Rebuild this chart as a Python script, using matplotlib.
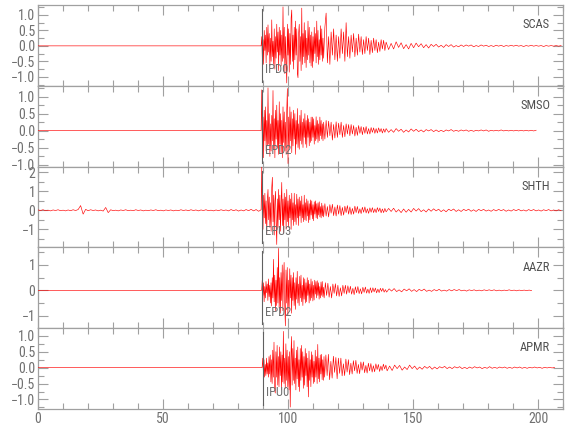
import numpy as np
import matplotlib
matplotlib.use("Agg")
import matplotlib.pyplot as plt
from matplotlib.ticker import MultipleLocator, FuncFormatter

plt.rcParams['font.family'] = ['Liberation Sans Narrow', 'Roboto Condensed',
                               'DejaVu Sans Condensed', 'Liberation Sans']

stations = ["SCAS", "SMSO", "SHTH", "AAZR", "APMR"]
picks = ["IPD0", "EPD2", "EPU3", "EPD2", "IPU0"]
onsets = [89.5, 89.5, 89.5, 89.7, 89.9]
ylims = [(-1.29, 1.32), (-1.06, 1.32), (-1.95, 2.3), (-1.49, 1.69), (-1.30, 1.24)]

STRONG_DT = 0.25  # s, first 25 s after the onset
MID_DT = 0.5      # s, next 25 s
TAIL_DT = 1.0     # s, late coda

# pre-event noise (spread evenly from t=0 to just before the onset)
pre_scas = [0.0, 0.0]
pre_smso = [0.0, 0.0]
pre_shth = [0.02, -0.01, 0.03, -0.02, 0.01, -0.03, 0.02, -0.01, 0.03, -0.02,
            0.01, -0.03, 0.02, -0.02, 0.03, -0.01, 0.04, 0.25, -0.2, 0.05,
            -0.02, 0.03, -0.01, 0.02, -0.03, 0.01, -0.04, 0.15, -0.12, 0.03,
            -0.02, 0.01, -0.03, 0.02, -0.01, 0.03, -0.02, 0.01, -0.02, 0.03,
            -0.01, 0.02, -0.03, 0.01, -0.02, 0.02, -0.01, 0.03, -0.02, 0.01,
            -0.03, 0.02, -0.01, 0.02, -0.03, 0.01, -0.02, 0.03, -0.01, 0.02,
            -0.02, 0.03, -0.01, 0.02, -0.03, 0.02, -0.01, 0.03, -0.02, 0.01,
            -0.03, 0.02, -0.02, 0.03, -0.01, 0.02, -0.03, 0.04, -0.02, 0.03,
            -0.04, 0.02, -0.03, 0.04, -0.02, 0.05, -0.03, 0.04, -0.05, 0.03]
pre_aazr = [0.0, 0.0]
pre_apmr = [0.0, 0.0]

# strong part, every STRONG_DT from the onset
strong_scas = [0.3, -0.45, 0.2, -0.6, 0.5, -0.15, 0.35, -0.55, 0.6, -0.3,
               0.68, -0.2, 0.4, -0.65, 0.25, -0.5, 0.84, -0.35, 0.15, -0.6,
               0.55, -0.75, 0.3, -0.4, 0.7, -0.2, 0.45, -0.8, 0.6, -0.3,
               0.5, -0.65, 0.35, -0.5, 1.26, -0.4, 0.6, -0.9, 0.3, -0.55,
               -1.2, 0.7, -0.3, 0.55, -0.85, 0.4, -0.6, 0.9, 1.16, -0.5,
               0.35, -0.75, 0.6, -0.45, 0.8, -0.3, 0.55, -0.9, -1.03, 0.4,
               0.7, -0.5, 0.3, -0.8, 1.22, -0.6, 0.4, -0.35, 0.75, -0.55,
               0.5, -0.7, 0.25, -0.45, 0.8, -0.3, 0.6, -0.55, 0.35, -0.65,
               0.45, -0.7, 0.3, -0.5, 0.6, -0.25, 0.4, -0.55, 0.8, -0.35,
               0.5, -0.6, 0.2, -0.45, 0.65, -0.3, 0.55, -0.5, 0.25, -0.4]
strong_smso = [1.2, -0.5, 0.4, -0.8, 0.6, -0.3, 0.7, -0.6, 0.3, -0.45,
               1.26, -0.4, 0.5, -0.76, 0.2, -0.6, 0.45, -0.3, 1.18, -0.55,
               0.35, -0.8, 0.6, -0.25, 0.75, -0.5, 0.3, -0.7, 0.85, -0.4,
               0.5, -0.65, 0.3, -0.8, 0.7, -0.35, 0.55, -0.6, 0.25, -0.7,
               0.6, 1.24, -0.97, 0.4, -0.5, 0.7, -0.3, 0.55, -0.65, 0.35,
               -0.45, 0.6, -0.25, 0.5, -0.7, 0.3, -0.4, 0.65, -0.5, 0.2,
               -0.55, 0.45, -0.3, 0.6, -0.4, 0.25, -0.5, 0.35, -0.2, 0.5,
               -0.4, 0.3, -0.5, 0.45, -0.2, 0.35, -0.45, 0.25, -0.35, 0.4,
               -0.3, 0.4, -0.2, 0.35, -0.4, 0.15, -0.3, 0.41, -0.25, 0.3,
               -0.35, 0.2, -0.3, 0.4, -0.15, 0.3, -0.25, 0.2, -0.3, 0.25]
strong_shth = [2.3, -0.6, -1.0, 0.8, -0.4, 0.9, -0.7, 0.5, -1.26, 0.6,
               1.1, -0.5, 0.7, -0.9, 0.4, -1.1, 1.2, 1.74, -0.6, 0.8,
               -1.3, 0.5, 1.0, -0.7, -1.8, 0.6, -0.9, 1.1, -0.5, 0.8,
               -1.1, 0.4, 1.47, -0.8, 0.6, -1.2, 0.9, -0.5, 0.7, -1.0,
               1.1, -0.6, 0.5, -0.9, 0.8, -0.4, 0.6, -1.0, 0.9, -0.5,
               0.4, -0.8, 0.9, -0.6, 0.3, -0.75, 0.85, -0.4, 0.6, -0.8,
               0.7, -0.3, 0.5, -0.65, 0.75, -0.4, 0.3, -0.6, 0.8, -0.5,
               0.4, -0.55, 0.6, -0.3, 0.5, -0.65, 0.35, -0.5, 0.55, -0.25,
               0.5, -0.45, 0.3, -0.55, 0.45, -0.2, 0.5, -0.4, 0.35, -0.45,
               0.4, -0.25, 0.45, -0.35, 0.2, -0.4, 0.38, -0.3, 0.25, -0.35]
strong_aazr = [0.4, -0.2, 0.3, -0.45, 0.15, -0.3, 0.35, -0.1, 0.25, -0.4,
               0.45, -0.25, 0.2, -0.5, 0.3, -0.62, 0.5, -0.3, 1.22, -0.45,
               0.6, -0.8, 0.4, -0.6, 0.9, -0.5, 1.65, -0.7, 0.5, -0.9,
               0.7, -0.4, 1.0, -0.8, 0.5, 1.1, -0.6, -1.4, 0.8, -0.5,
               0.9, -1.0, 0.4, -0.7, 0.85, -0.3, 0.6, -0.9, 0.5, -0.4,
               0.7, -0.6, 0.3, -0.75, 0.5, -0.35, 0.75, -0.5, 0.25, -0.6,
               0.55, -0.3, 0.6, -0.45, 0.2, -0.6, 0.5, -0.35, 0.45, -0.5,
               0.3, -0.45, 0.5, -0.2, 0.4, -0.5, 0.25, -0.4, 0.45, -0.3,
               0.35, -0.42, 0.2, -0.38, 0.4, -0.15, 0.35, -0.3, 0.38, -0.2,
               0.3, -0.35, 0.15, -0.3, 0.33, -0.2, 0.35, -0.25, 0.12, -0.3]
strong_apmr = [0.3, -0.15, 0.25, -0.3, 0.1, -0.25, 0.3, -0.2, 0.15, -0.3,
               0.35, -0.2, 0.4, -0.45, 0.25, -0.5, 0.55, -0.3, 0.8, -0.6,
               -0.8, 0.5, -0.3, 0.7, -0.55, 0.35, -0.6, 0.65, -0.25, 0.5,
               -0.7, 0.4, -0.45, 1.14, -0.5, 0.3, -0.65, 0.75, -0.4, 0.55,
               -0.6, 0.35, -0.7, 0.5, -1.24, 0.3, 0.98, -0.55, 0.6, -0.4,
               0.85, -0.5, 0.3, -0.7, 0.55, -0.35, 0.65, -0.6, 0.25, -0.75,
               0.6, -0.4, 0.7, -0.3, 0.5, -0.65, 0.35, -0.55, 0.6, -0.25,
               0.45, -0.6, 0.3, -0.92, 0.52, -0.4, 0.25, -0.6, 0.5, -0.3,
               0.4, -0.5, 0.2, -0.45, 0.55, -0.3, 0.35, -0.5, 0.73, -0.35,
               0.3, -0.45, 0.4, -0.2, 0.42, -0.38, 0.25, -0.4, 0.35, -0.3]

# decaying coda, every MID_DT
mid_scas = [0.6, 1.06, -0.55, 0.3, -0.6, 0.45, -0.3, 0.55, -0.45, 0.35,
            -0.5, 0.3, -0.4, 0.55, -0.25, 0.45, -0.5, 0.75, -0.35, 0.3,
            -0.4, 0.35, -0.2, 0.4, -0.35, 0.25, -0.3, 0.38, -0.2, 0.3,
            -0.28, 0.2, -0.25, 0.3, -0.15, 0.25, -0.28, 0.18, -0.22, 0.25,
            -0.15, 0.2, -0.22, 0.12, -0.18, 0.2, -0.1, 0.18, -0.15, 0.12]
mid_smso = [-0.25, 0.3, -0.2, 0.28, -0.15, 0.25, -0.28, 0.18, -0.22, 0.26,
            -0.2, 0.22, -0.12, 0.25, -0.2, 0.15, -0.18, 0.2, -0.1, 0.18,
            -0.15, 0.18, -0.1, 0.15, -0.16, 0.1, -0.14, 0.15, -0.08, 0.12,
            -0.12, 0.1, -0.08, 0.12, -0.1, 0.06, -0.1, 0.09, -0.05, 0.08,
            -0.08, 0.06, -0.07, 0.08, -0.04, 0.06, -0.07, 0.05, -0.05, 0.06]
mid_shth = [0.35, -0.3, 0.2, -0.35, 0.3, -0.15, 0.32, -0.28, 0.18, -0.3,
            0.28, -0.2, 0.25, -0.28, 0.15, -0.25, 0.22, -0.12, 0.25, -0.2,
            0.18, -0.22, 0.1, -0.2, 0.22, -0.12, 0.2, -0.16, 0.08, -0.17,
            0.16, -0.1, 0.18, -0.14, 0.08, -0.16, 0.13, -0.1, 0.14, -0.12,
            0.08, -0.12, 0.14, -0.06, 0.12, -0.13, 0.07, -0.12, 0.1, -0.08]
mid_aazr = [0.3, -0.2, 0.28, -0.27, 0.15, -0.3, 0.25, -0.12, 0.26, -0.22,
            0.2, -0.24, 0.1, -0.22, 0.2, -0.12, 0.2, -0.15, 0.18, -0.1,
            0.16, -0.15, 0.08, -0.17, 0.14, -0.1, 0.15, -0.13, 0.06, -0.14,
            0.12, -0.08, 0.13, -0.11, 0.05, -0.12, 0.1, -0.09, 0.1, -0.06,
            0.09, -0.1, 0.05, -0.09, 0.08, -0.04, 0.08, -0.07, 0.03, -0.07]
mid_apmr = [0.4, -0.25, 0.42, -0.38, 0.2, -0.33, 0.36, -0.15, 0.32, -0.35,
            0.3, -0.18, 0.3, -0.26, 0.12, -0.25, 0.27, -0.14, 0.25, -0.22,
            0.14, -0.2, 0.22, -0.1, 0.23, -0.18, 0.1, -0.19, 0.18, -0.08,
            0.18, -0.16, 0.07, -0.17, 0.14, -0.1, 0.13, -0.14, 0.06, -0.13,
            0.12, -0.06, 0.1, -0.12, 0.05, -0.09, 0.11, -0.04, 0.08, -0.1]

# late coda, every TAIL_DT
tail_scas = [-0.12, 0.08, -0.1, 0.13, -0.05, 0.1, -0.09, 0.04, -0.1, 0.08,
             -0.06, 0.09, -0.03, 0.07, -0.06, 0.04, -0.07, 0.05, -0.02, 0.05,
             -0.04, 0.02, -0.05, 0.04, -0.02, 0.04, -0.04, 0.01, -0.03, 0.03,
             -0.02, 0.03, -0.01, 0.03, -0.03, 0.01, -0.02, 0.03, -0.01, 0.02,
             -0.02, 0.01, -0.02, 0.02, -0.01, 0.02, -0.02, 0.01, -0.01, 0.02,
             -0.01, 0.02, -0.01, 0.01, -0.02, 0.01, -0.01, 0.02, -0.01, 0.01,
             -0.01, 0.01, -0.02, 0.01, -0.01, 0.01, -0.01, 0.01, -0.01, 0.01]
tail_smso = [-0.05, 0.03, -0.05, 0.06, -0.02, 0.04, -0.05, 0.02, -0.04, 0.05,
             -0.02, 0.04, -0.03, 0.02, -0.04, 0.03, -0.01, 0.03, -0.03, 0.02,
             -0.03, 0.01, -0.03, 0.02, -0.01, 0.03, -0.02, 0.01, -0.02, 0.02,
             -0.01, 0.02, -0.02, 0.01, -0.02, 0.01, -0.01, 0.02, -0.01, 0.02,
             -0.02, 0.01, -0.01, 0.01, -0.01, 0.02, -0.01, 0.01, -0.01, 0.01,
             -0.01, 0.01, -0.01, 0.01, -0.01, 0.01, -0.01, 0.01, -0.01, 0.01]
tail_shth = [0.1, -0.06, 0.11, -0.09, 0.04, -0.12, 0.07, -0.1, 0.05, -0.09,
             0.1, -0.04, 0.09, -0.07, 0.03, -0.09, 0.07, -0.05, 0.08, -0.03,
             0.06, -0.07, 0.03, -0.08, 0.06, -0.02, 0.07, -0.06, 0.03, -0.06,
             0.05, -0.02, 0.06, -0.05, 0.03, -0.06, 0.05, -0.02, 0.05, -0.04,
             0.02, -0.05, 0.04, -0.03, 0.05, -0.02, 0.04, -0.05, 0.02, -0.04,
             0.04, -0.02, 0.05, -0.03, 0.02, -0.04, 0.04, -0.02, 0.04, -0.03,
             0.02, -0.04, 0.03, -0.02, 0.04, -0.03, 0.02, -0.03, 0.03, -0.02]
tail_aazr = [0.06, -0.03, 0.07, -0.05, 0.02, -0.06, 0.05, -0.02, 0.06, -0.04,
             0.03, -0.05, 0.04, -0.02, 0.05, -0.04, 0.01, -0.04, 0.03, -0.02,
             0.04, -0.03, 0.01, -0.03, 0.03, -0.02, 0.03, -0.01, 0.03, -0.02,
             0.01, -0.03, 0.02, -0.01, 0.02, -0.02, 0.01, -0.02, 0.02, -0.01,
             0.02, -0.01, 0.02, -0.02, 0.01, -0.02, 0.01, -0.01, 0.02, -0.01,
             0.01, -0.02, 0.01, -0.01, 0.01, -0.01, 0.01, -0.01]
tail_apmr = [0.05, -0.09, 0.08, -0.03, 0.07, -0.08, 0.02, -0.06, 0.08, -0.03,
             0.05, -0.06, 0.02, -0.05, 0.04, -0.02, 0.04, -0.05, 0.02, -0.04,
             0.03, -0.01, 0.04, -0.03, 0.02, -0.03, 0.03, -0.01, 0.03, -0.03,
             0.01, -0.03, 0.02, -0.02, 0.03, -0.01, 0.02, -0.03, 0.01, -0.02,
             0.03, -0.02, 0.01, -0.02, 0.02, -0.01, 0.02, -0.02, 0.01, -0.02,
             0.02, -0.01, 0.02, -0.02, 0.01, -0.02, 0.01, -0.01, 0.02, -0.01,
             0.01, -0.02, 0.01, -0.01, 0.01, -0.01, 0.01]

pres = [pre_scas, pre_smso, pre_shth, pre_aazr, pre_apmr]
strongs = [strong_scas, strong_smso, strong_shth, strong_aazr, strong_apmr]
mids = [mid_scas, mid_smso, mid_shth, mid_aazr, mid_apmr]
tails = [tail_scas, tail_smso, tail_shth, tail_aazr, tail_apmr]

AX_GRAY = "#a0a0a0"
TXT_GRAY = "#707070"


def minus_fmt(decimals):
    def f(v, pos):
        return f"{v:.{decimals}f}".replace("-", "\u2212")
    return FuncFormatter(f)


fig = plt.figure(figsize=(5.8, 4.4), dpi=100)
W, H = 580.0, 440.0
left, right = 38 / W, 563 / W
top_px, panel_px = 5.0, 80.8

for k in range(5):
    y0 = 1 - (top_px + panel_px * (k + 1)) / H
    ax = fig.add_axes([left, y0, right - left, panel_px / H])

    onset = onsets[k]
    pre = np.array(pres[k])
    strong = np.array(strongs[k])
    mid = np.array(mids[k])
    tail = np.array(tails[k])
    t_pre = np.linspace(0, onset - STRONG_DT, len(pre))
    t_strong = onset + np.arange(len(strong)) * STRONG_DT
    t_mid = t_strong[-1] + (np.arange(len(mid)) + 1) * MID_DT
    t_tail = t_mid[-1] + (np.arange(len(tail)) + 1) * TAIL_DT
    t = np.concatenate([t_pre, t_strong, t_mid, t_tail])
    v = np.concatenate([pre, strong, mid, tail])

    ax.plot(t, v, color="red", lw=0.45, zorder=3)

    ax.axvline(onset, ymin=0.05, ymax=0.95, color="#606060", lw=0.8, zorder=4)
    span = ylims[k][1] - ylims[k][0]
    ax.text(onset + 1.3, ylims[k][0] + 0.2 * span, picks[k],
            color=TXT_GRAY, fontsize=9, ha="left", va="center", zorder=5)
    ax.text(204.8, ylims[k][0] + 0.755 * span, stations[k],
            color="#505050", fontsize=9, ha="right", va="center")

    ax.set_xlim(0, 210)
    ax.set_ylim(*ylims[k])

    for s in ax.spines.values():
        s.set_color(AX_GRAY)
        s.set_linewidth(0.9)

    ax.xaxis.set_major_locator(MultipleLocator(50))
    ax.xaxis.set_minor_locator(MultipleLocator(10))
    if k in (2, 3):
        ax.yaxis.set_major_locator(MultipleLocator(1))
        ax.yaxis.set_minor_locator(MultipleLocator(0.5))
        ax.yaxis.set_major_formatter(minus_fmt(0))
    else:
        ax.yaxis.set_major_locator(MultipleLocator(0.5))
        ax.yaxis.set_minor_locator(MultipleLocator(0.25))
        ax.yaxis.set_major_formatter(minus_fmt(1))

    ax.tick_params(which="both", direction="in", top=True, right=True,
                   color=AX_GRAY, labelcolor=TXT_GRAY, labelsize=10, width=0.8)
    ax.tick_params(which="major", length=7, pad=2)
    ax.tick_params(which="minor", length=4)
    if k < 4:
        ax.tick_params(axis="x", labelbottom=False)

fig.savefig("out.png", dpi=100)
